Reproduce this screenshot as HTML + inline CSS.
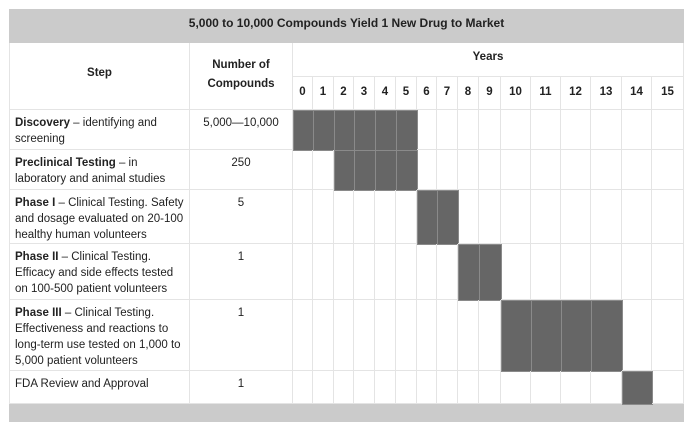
<!DOCTYPE html>
<html><head><meta charset="utf-8"><style>
body{margin:0;width:690px;height:433px;background:#fff;font-family:"Liberation Sans",sans-serif;color:#222;overflow:hidden}
#c{position:absolute;left:0;top:0;width:690px;height:433px}
.a{position:absolute;box-sizing:border-box}
.cell{border-right:1px solid #e4e4e4;border-bottom:1px solid #e4e4e4}
.txt{font-size:11.5px;line-height:16px;padding:5px 5px}
.h{font-weight:bold;font-size:11.5px;text-align:center}
.bar{background:#666;border:1px solid #8a8a8a}
</style></head><body>
<div id="c">
<div class="a" style="left:9px;top:9px;width:675px;height:34px;background:#cbcbcb;font-weight:bold;font-size:12px;text-align:center;line-height:28px">5,000 to 10,000 Compounds Yield 1 New Drug to Market</div>
<div class="a cell h" style="left:9px;top:43px;width:181px;height:67px;line-height:60px;border-left:1px solid #e4e4e4">Step</div>
<div class="a cell h" style="left:190px;top:43px;width:103px;height:67px;padding-top:13px;line-height:19px">Number of<br>Compounds</div>
<div class="a cell h" style="left:293px;top:43px;width:391px;height:34px;line-height:28px">Years</div>
<div class="a" style="left:9px;top:404px;width:675px;height:18px;background:#cbcbcb"></div>
</div>
<script>
const years=[0,1,2,3,4,5,6,7,8,9,10,11,12,13,14,15];
const stepTitles=["Discovery","Preclinical Testing","Phase I","Phase II","Phase III","FDA Review and Approval"];
const stepDescs=["identifying and screening","in laboratory and animal studies","Clinical Testing. Safety and dosage evaluated on 20-100 healthy human volunteers","Clinical Testing. Efficacy and side effects tested on 100-500 patient volunteers","Clinical Testing. Effectiveness and reactions to long-term use tested on 1,000 to 5,000 patient volunteers",""];
const compounds=["5,000\u201410,000","250","5","1","1","1"];
const startYears=[0,2,6,8,10,14];
const endYears=[5,5,7,9,13,14];
const c=document.getElementById('c');
const colEdges=[293,313,334,354,375,396,417,437,458,479,501,531,561,591,622,652,684];
const rowEdges=[110,150,190,244,300,371,404];
function x(y){return colEdges[y];}
function w(y){return colEdges[y+1]-colEdges[y];}
function mk(cls,style,html){const d=document.createElement('div');d.className='a '+cls;d.setAttribute('style',style);if(html!==undefined)d.innerHTML=html;c.appendChild(d);return d;}
years.forEach((yr,i)=>{
  const d=mk('cell h',`left:${x(i)}px;top:77px;width:${w(i)}px;height:33px;line-height:30px`,yr);
  
  
});
stepTitles.forEach((t,r)=>{
  const top=rowEdges[r],h=rowEdges[r+1]-top;
  const label=stepDescs[r]?`<b>${t}</b> \u2013 ${stepDescs[r]}`:t;
  const s=mk('cell txt',`left:9px;top:${top}px;width:181px;height:${h}px;border-left:1px solid #e4e4e4`,label);
  
  
  const n=mk('cell txt',`left:190px;top:${top}px;width:103px;height:${h}px;text-align:center`,compounds[r]);
  
  
  years.forEach((yr,i)=>{
    const g=mk('cell',`left:${x(i)}px;top:${top}px;width:${w(i)}px;height:${h}px`);
    
    
    if(yr>=startYears[r]&&yr<=endYears[r]){
      const b=mk('bar',`left:${x(i)}px;top:${top}px;width:${w(i)+1}px;height:${h+1}px`);
      
      
    }
  });
});
</script>
</body></html>
